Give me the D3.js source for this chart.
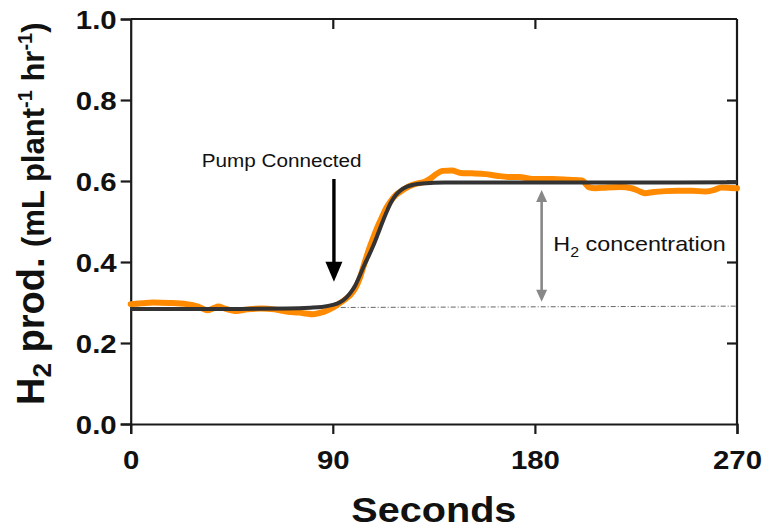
<!DOCTYPE html>
<html>
<head>
<meta charset="utf-8">
<script src="https://cdn.jsdelivr.net/npm/d3@7"></script>
<style>
  body { margin: 0; background: #fff; }
  text { font-family: "Liberation Sans", Arial, sans-serif; }
</style>
</head>
<body>
<svg id="chart" width="765" height="529"></svg>
<script>
// measured trace (seconds, H2 production)
const rawT = [0, 5, 10, 17, 25, 30, 34, 37, 39, 42, 47, 52, 58, 64, 70, 75, 78, 81, 84, 86, 90, 93, 96, 98, 100, 102, 104, 106, 108, 110, 112, 114, 116, 118, 121, 124, 127, 131, 134, 136, 139, 143, 147, 152, 158, 163, 168, 173, 179, 188, 195, 201, 204, 207, 212, 218, 223, 226, 229, 233, 238, 244, 250, 256, 260, 263, 267, 270];
const rawV = [0.296, 0.298, 0.300, 0.299, 0.296, 0.290, 0.281, 0.286, 0.290, 0.285, 0.279, 0.283, 0.285, 0.283, 0.277, 0.275, 0.273, 0.271, 0.274, 0.277, 0.287, 0.298, 0.310, 0.320, 0.335, 0.360, 0.395, 0.430, 0.460, 0.488, 0.512, 0.535, 0.552, 0.565, 0.577, 0.587, 0.593, 0.598, 0.608, 0.617, 0.625, 0.626, 0.620, 0.619, 0.617, 0.613, 0.610, 0.610, 0.605, 0.605, 0.603, 0.601, 0.585, 0.582, 0.584, 0.585, 0.582, 0.576, 0.570, 0.573, 0.575, 0.576, 0.576, 0.574, 0.578, 0.584, 0.583, 0.582];

// fitted curve
const fitT = [0, 40, 70, 80, 85, 90, 93, 96, 98, 100, 102, 104, 106, 108, 110, 112, 114, 116, 118, 120, 123, 126, 130, 140, 200, 270];
const fitV = [0.284, 0.284, 0.285, 0.287, 0.289, 0.294, 0.300, 0.312, 0.325, 0.342, 0.366, 0.392, 0.415, 0.440, 0.468, 0.497, 0.524, 0.548, 0.565, 0.576, 0.586, 0.591, 0.594, 0.596, 0.596, 0.597];

// dotted baseline ends
const baseT = [0, 270];
const baseV = [0.286, 0.291];

const xTicks = [0, 90, 180, 270];
const yTicks = [0.0, 0.2, 0.4, 0.6, 0.8, 1.0];

// annotations: [seconds, value]
const pumpArrow = { t: 90.5, from: 0.605, to: 0.351 };
const pumpLabel = { t: 67.2, v: 0.634, text: "Pump Connected" };
const concArrow = { t: 183, top: 0.578, bottom: 0.302 };
const concLabel = { t: 188.2, v: 0.428 };

const svg = d3.select("#chart");
const pLeft = 130.7, pRight = 737, pTop = 19, pBottom = 424;

const x = d3.scaleLinear().domain([0, 270]).range([pLeft, pRight]);
const y = d3.scaleLinear().domain([0, 1]).range([pBottom, pTop]);

const axisColor = "#1a1a1a";
const sx = 1.13; // the original text is a bit wide

// frame: top and right mirrors
const topAxis = svg.append("g").attr("transform", `translate(0,${pTop})`)
  .call(d3.axisBottom(x).tickValues([90, 180]).tickSize(10).tickFormat(""));
const rightAxis = svg.append("g").attr("transform", `translate(${pRight},0)`)
  .call(d3.axisLeft(y).tickValues([0.2, 0.4, 0.6, 0.8]).tickSize(10).tickFormat(""));

// left axis
const yAxis = svg.append("g").attr("transform", `translate(${pLeft},0)`)
  .call(d3.axisLeft(y).tickValues(yTicks).tickSize(10).tickFormat(d3.format(".1f")));
yAxis.selectAll("text")
  .attr("x", -14 / sx)
  .attr("dy", "0.36em")
  .attr("transform", `scale(${sx},1)`)
  .style("font-size", "26px")
  .style("font-weight", "bold")
  .attr("fill", "#111");

// bottom axis
const xAxis = svg.append("g").attr("transform", `translate(0,${pBottom})`)
  .call(d3.axisBottom(x).tickValues(xTicks).tickSize(10).tickFormat(d3.format("d")));
xAxis.selectAll("text")
  .attr("y", 45)
  .attr("dy", 0)
  .attr("transform", `scale(${sx},1)`)
  .style("font-size", "26px")
  .style("font-weight", "bold")
  .attr("fill", "#111");

[topAxis, rightAxis, yAxis, xAxis].forEach(a => {
  a.select(".domain").attr("stroke", axisColor).attr("stroke-width", 2.2);
  a.selectAll(".tick line").attr("stroke", axisColor).attr("stroke-width", 2.2);
});
topAxis.select(".domain").attr("d", `M${pLeft},0H${pRight}`);
rightAxis.select(".domain").attr("d", `M0,${pTop}V${pBottom}`);

// dotted baseline
svg.append("line")
  .attr("x1", x(baseT[0])).attr("y1", y(baseV[0]))
  .attr("x2", x(baseT[1])).attr("y2", y(baseV[1]))
  .attr("stroke", "#666")
  .attr("stroke-width", 1)
  .attr("stroke-dasharray", "5,2,1,2");

// orange measured trace
const rawLine = d3.line().x(d => x(d[0])).y(d => y(d[1])).curve(d3.curveMonotoneX);
svg.append("path")
  .datum(rawT.map((t, i) => [t, rawV[i]]))
  .attr("d", rawLine)
  .attr("fill", "none")
  .attr("stroke", "#ff8a00")
  .attr("stroke-width", 6)
  .attr("stroke-linejoin", "round")
  .attr("stroke-linecap", "round");

// fitted curve
svg.append("path")
  .datum(fitT.map((t, i) => [t, fitV[i]]))
  .attr("d", rawLine)
  .attr("fill", "none")
  .attr("stroke", "#333")
  .attr("stroke-width", 4);

// pump arrow
const px = x(pumpArrow.t), headLen = 20, headW = 8.5;
svg.append("line")
  .attr("x1", px).attr("x2", px)
  .attr("y1", y(pumpArrow.from)).attr("y2", y(pumpArrow.to) - headLen + 1)
  .attr("stroke", "#000").attr("stroke-width", 3.4);
svg.append("path")
  .attr("d", `M${px - headW},${y(pumpArrow.to) - headLen}L${px + headW},${y(pumpArrow.to) - headLen}L${px},${y(pumpArrow.to)}Z`)
  .attr("fill", "#000");

svg.append("text")
  .attr("transform", `translate(${x(pumpLabel.t)},${y(pumpLabel.v)}) scale(1.09,1)`)
  .attr("text-anchor", "middle")
  .style("font-size", "19px")
  .attr("fill", "#111")
  .text(pumpLabel.text);

// H2 concentration double arrow
const cx = x(concArrow.t), gLen = 12, gW = 5.5;
const yTop = y(concArrow.top), yBot = y(concArrow.bottom);
svg.append("line")
  .attr("x1", cx).attr("x2", cx)
  .attr("y1", yTop + gLen - 1).attr("y2", yBot - gLen + 1)
  .attr("stroke", "#888").attr("stroke-width", 2.6);
svg.append("path")
  .attr("d", `M${cx},${yTop}L${cx - gW},${yTop + gLen}L${cx + gW},${yTop + gLen}Z M${cx},${yBot}L${cx - gW},${yBot - gLen}L${cx + gW},${yBot - gLen}Z`)
  .attr("fill", "#888");

const conc = svg.append("text")
  .attr("transform", `translate(${x(concLabel.t)},${y(concLabel.v)}) scale(1.14,1)`)
  .style("font-size", "20.5px")
  .attr("fill", "#111");
conc.append("tspan").text("H");
conc.append("tspan").attr("dy", 6).style("font-size", "14px").text("2");
conc.append("tspan").attr("dy", -6).text(" concentration");

// axis titles
svg.append("text")
  .attr("transform", `translate(${(pLeft + pRight) / 2},522) scale(1.1,1)`)
  .attr("text-anchor", "middle")
  .style("font-size", "36px")
  .style("font-weight", "bold")
  .attr("fill", "#111")
  .text("Seconds");

const yl = svg.append("text")
  .attr("transform", "translate(44,405) rotate(-90)")
  .style("font-weight", "bold")
  .attr("fill", "#111");
yl.append("tspan").style("font-size", "38px").text("H");
yl.append("tspan").style("font-size", "26px").attr("dy", 7).text("2");
yl.append("tspan").style("font-size", "38px").attr("dy", -7).text(" prod. ");
yl.append("tspan").style("font-size", "31px").text("(mL plant");
yl.append("tspan").style("font-size", "20px").attr("dy", -12).text("-1");
yl.append("tspan").style("font-size", "31px").attr("dy", 12).text(" hr");
yl.append("tspan").style("font-size", "20px").attr("dy", -12).text("-1");
yl.append("tspan").style("font-size", "31px").attr("dy", 12).text(")");
</script>
</body>
</html>
